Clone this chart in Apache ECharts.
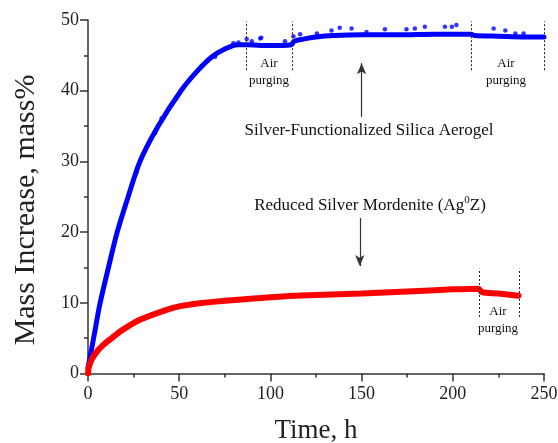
<!DOCTYPE html>
<html>
<head>
<meta charset="utf-8">
<script src="https://cdn.jsdelivr.net/npm/echarts@6/dist/echarts.min.js"></script>
<style>
  html, body { margin: 0; padding: 0; background: #fff; }
  #chart { width: 558px; height: 443px; }
</style>
</head>
<body>
<div id="chart"></div>
<script>
// silica aerogel (blue) - main trend
var blueTime = [0, 2, 4, 6.5, 11.5, 16, 22, 28.5, 38.5, 51, 60, 68, 75, 82, 87, 95, 105, 111.5, 113, 118, 125, 135, 150, 170, 190, 210, 212, 225, 240, 250];
var blueMass = [0.8, 3.5, 6.3, 9.8, 15.3, 20, 25, 30, 35, 40, 42.8, 44.8, 45.9, 46.5, 46.5, 46.4, 46.4, 46.5, 47.0, 47.3, 47.6, 47.8, 47.9, 47.9, 48.0, 48.0, 47.8, 47.7, 47.6, 47.6];
// scattered blue points above the trend
var blueDotTime = [26.7, 36.8, 40.4, 48.6, 69.7, 79.7, 82.5, 87, 89.8, 94.4, 95, 108, 112.6, 116.3, 125.5, 133.5, 138, 144.5, 152.7, 162.8, 174.6, 179.2, 184.7, 195.7, 199.5, 202, 222.4, 228.8, 234.3, 238.8];
var blueDotMass = [28.5, 34.0, 36.1, 39.1, 44.8, 46.7, 46.8, 47.3, 47.0, 47.4, 47.5, 47.0, 47.7, 48.0, 48.1, 48.5, 48.9, 48.8, 48.3, 48.7, 48.7, 48.8, 49.05, 49.05, 49.05, 49.3, 48.8, 48.5, 48.1, 48.1];
// reduced silver mordenite (red)
var redTime = [0, 0.3, 1, 2, 3.5, 5.5, 8, 10.5, 13, 18.5, 28.5, 43, 50, 60, 75, 100, 125, 150, 175, 200, 214, 216, 225, 236];
var redMass = [0, 0.75, 1.35, 1.95, 2.6, 3.3, 3.95, 4.5, 5.0, 6.1, 7.6, 9.0, 9.5, 9.9, 10.3, 10.8, 11.1, 11.3, 11.6, 11.9, 12.0, 11.5, 11.3, 11.0];

// air purging marker lines
var bluePurgeTimes = [87, 112, 210, 250];
var bluePurgeRange = [42.9, 49.8];
var redPurgeTimes = [214.5, 236.3];
var redPurgeRange = [8.0, 14.8];

var xTicks = [0, 50, 100, 150, 200, 250];
var yTicks = [0, 10, 20, 30, 40, 50];

var FONT = 'Liberation Serif';

var zip = function (a, b) {
  var out = [];
  for (var i = 0; i < a.length; i++) out.push([a[i], b[i]]);
  return out;
};

var vLines = function (times, range) {
  var out = [];
  times.forEach(function (t) {
    out.push([{ coord: [t, range[0]] }, { coord: [t, range[1]] }]);
  });
  return out;
};

var chart = echarts.init(document.getElementById('chart'));

var axisCommon = {
  type: 'value',
  axisLine: { show: true, lineStyle: { color: '#333', width: 1.5 } },
  axisTick: { show: true, inside: false, length: 8, lineStyle: { color: '#333', width: 1.5 } },
  minorTick: { show: true, splitNumber: 2, length: 4, lineStyle: { color: '#333', width: 1.5 } },
  splitLine: { show: false },
  axisLabel: { color: '#222', fontFamily: FONT, fontSize: 18 },
  nameLocation: 'middle',
  nameTextStyle: { color: '#222', fontFamily: FONT }
};

var purgeText = function (x, y) {
  return {
    type: 'text', x: x, y: y,
    style: { text: 'Air\npurging', font: '13px "Liberation Serif"', fill: '#111', align: 'center', verticalAlign: 'middle', lineHeight: 17 }
  };
};

var option = {
  animation: false,
  backgroundColor: '#fff',
  grid: { left: 88, right: 14, top: 20, bottom: 69.5, containLabel: false, outerBoundsMode: 'none' },
  xAxis: Object.assign({}, axisCommon, {
    min: xTicks[0], max: xTicks[xTicks.length - 1], interval: 50,
    name: 'Time, h', nameGap: 44,
    axisLabel: Object.assign({}, axisCommon.axisLabel, { margin: 12 }),
    nameTextStyle: { color: '#222', fontFamily: FONT, fontSize: 27 }
  }),
  yAxis: Object.assign({}, axisCommon, {
    min: yTicks[0], max: yTicks[yTicks.length - 1], interval: 10,
    axisLabel: Object.assign({}, axisCommon.axisLabel, { margin: 9 })
  }),
  series: [
    {
      name: 'Aerogel',
      type: 'line',
      data: zip(blueTime, blueMass),
      smooth: 0.3,
      showSymbol: false,
      lineStyle: { color: '#0000ff', width: 5, cap: 'round' },
      z: 3,
      markLine: {
        silent: true,
        symbol: ['none', 'none'],
        label: { show: false },
        lineStyle: { color: '#222', type: [2, 2], width: 1 },
        data: vLines(bluePurgeTimes, bluePurgeRange)
      }
    },
    {
      name: 'AerogelDots',
      type: 'scatter',
      data: zip(blueDotTime, blueDotMass),
      symbolSize: 4.5,
      itemStyle: { color: '#0000ff' },
      z: 4
    },
    {
      name: 'AgZ',
      type: 'line',
      data: zip(redTime, redMass),
      smooth: 0.3,
      showSymbol: false,
      lineStyle: { color: '#ff0000', width: 6, cap: 'round' },
      z: 3,
      markLine: {
        silent: true,
        symbol: ['none', 'none'],
        label: { show: false },
        lineStyle: { color: '#222', type: [2, 2], width: 1 },
        data: vLines(redPurgeTimes, redPurgeRange)
      }
    },
    {
      // arrows
      name: 'arrows',
      type: 'line',
      data: [],
      markLine: {
        silent: true,
        symbol: ['none', 'arrow'],
        symbolSize: [7, 11],
        label: { show: false },
        lineStyle: { color: '#333', type: 'solid', width: 1.2 },
        data: [
          [{ coord: [150, 36.3] }, { coord: [150, 43.9] }],
          [{ coord: [149, 22.0] }, { coord: [149, 15.2] }]
        ]
      }
    }
  ],
  graphic: [
    {
      type: 'text', x: 26, y: 210, rotation: Math.PI / 2,
      style: { text: 'Mass Increase, mass%', font: '30px "Liberation Serif"', fill: '#222', align: 'center', verticalAlign: 'middle' }
    },
    {
      type: 'text', x: 369, y: 131,
      style: { text: 'Silver-Functionalized Silica Aerogel', font: '17px "Liberation Serif"', fill: '#111', align: 'center', verticalAlign: 'middle' }
    },
    {
      type: 'text', x: 370, y: 206,
      style: {
        text: '{n|Reduced Silver Mordenite (Ag}{s|0}{n|Z)}',
        align: 'center', verticalAlign: 'middle',
        rich: {
          n: { font: '17px "Liberation Serif"', fill: '#111', lineHeight: 22 },
          s: { font: '11px "Liberation Serif"', fill: '#111', lineHeight: 22, verticalAlign: 'top' }
        }
      }
    },
    purgeText(269, 72),
    purgeText(506, 72),
    purgeText(498, 320)
  ]
};

chart.setOption(option);
</script>
</body>
</html>
